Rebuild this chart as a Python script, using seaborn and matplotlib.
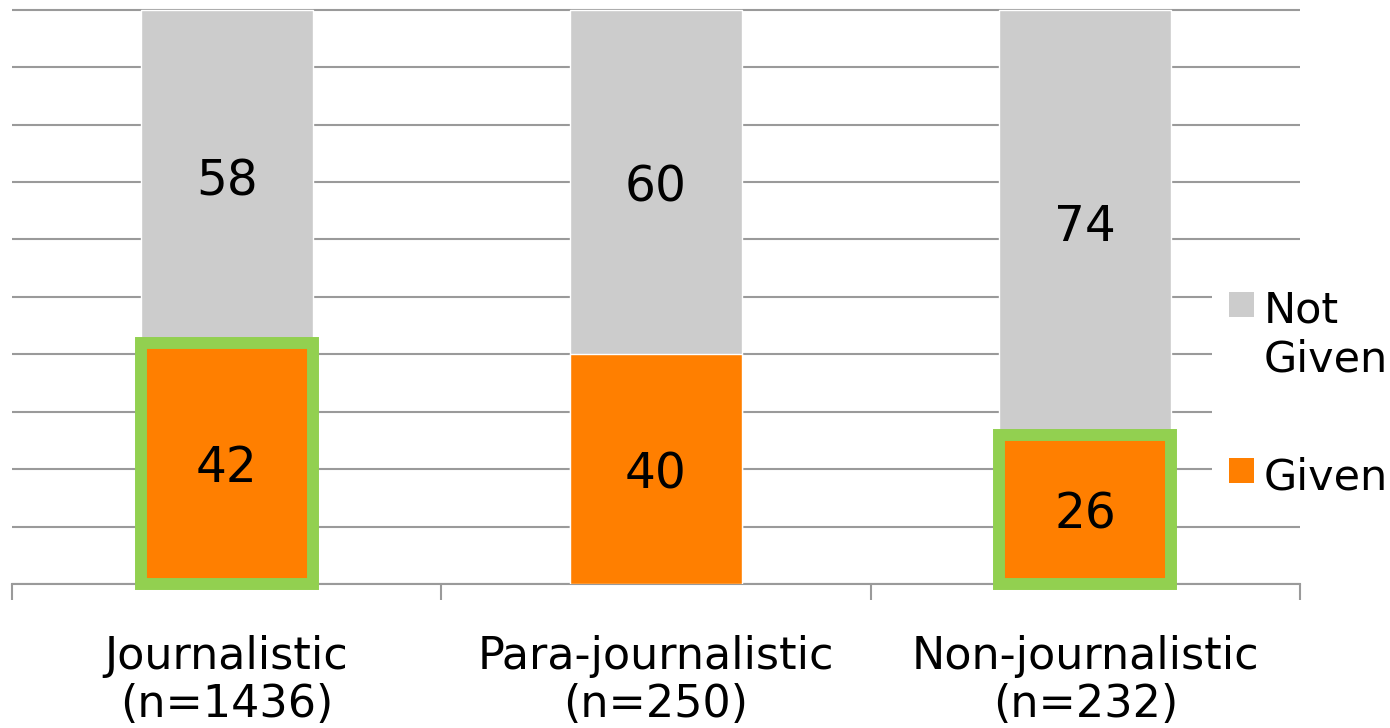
import matplotlib
matplotlib.use("Agg")
import matplotlib.pyplot as plt
import seaborn as sns
import pandas as pd
from matplotlib.patches import Patch, Rectangle
from matplotlib.legend_handler import HandlerPatch

# Share of items with attribution given, by source type (percent)
groups = ["Journalistic", "Para-journalistic", "Non-journalistic"]
sample_sizes = [1436, 250, 232]
given = [42, 40, 26]
not_given = [58, 60, 74]
highlighted = [True, False, True]

tick_labels = [f"{g}\n(n={n})" for g, n in zip(groups, sample_sizes)]

df = pd.DataFrame({"group": tick_labels, "Given": given, "Not Given": not_given})
df["Total"] = df["Given"] + df["Not Given"]

GREY = "#CCCCCC"
ORANGE = "#FF7F00"
GREEN = "#92D050"
RULE = "#9A9A9A"

sns.set_theme(style="white")
plt.rcParams["font.family"] = ["DejaVu Sans"]

W, H = 1390, 728
fig = plt.figure(figsize=(W / 100, H / 100), dpi=100)
ax = fig.add_axes([12 / W, 144 / H, 1288 / W, 576 / H])

# stacked bars: full height in grey, "Given" share in orange on top of it
sns.barplot(data=df, x="group", y="Total", color=GREY, width=0.4,
            saturation=1, errorbar=None, ax=ax, zorder=2)
n_back = len(ax.patches)
sns.barplot(data=df, x="group", y="Given", color=ORANGE, width=0.4,
            saturation=1, errorbar=None, ax=ax, zorder=3)
given_bars = ax.patches[n_back:]

for bar, flag in zip(given_bars, highlighted):
    if flag:
        bar.set_edgecolor(GREEN)
        bar.set_linewidth(8.6)
        bar.set_joinstyle("miter")
        bar.set_clip_on(False)
        bar.set_zorder(4)

# value labels centred in each segment
for i, (g, ng) in enumerate(zip(given, not_given)):
    ax.text(i, g / 2, f"{g}", ha="center", va="center_baseline",
            fontsize=35, color="black", zorder=6)
    ax.text(i, g + ng / 2, f"{ng}", ha="center", va="center_baseline",
            fontsize=35, color="black", zorder=6)

ax.set_xlim(-0.5, len(groups) - 0.5)
ax.set_ylim(0, 100.3)
ax.set_xlabel("")
ax.set_ylabel("")

ax.set_yticks(range(0, 101, 10))
ax.set_yticklabels([])
ax.tick_params(axis="y", length=0)
ax.set_axisbelow(True)
ax.yaxis.grid(True, color=RULE, linewidth=1.5)
ax.xaxis.grid(False)

ax.set_xticks(range(len(groups)))
ax.set_xticklabels(tick_labels, fontsize=32, linespacing=1.14, color="black")
ax.set_xticks([i - 0.5 for i in range(len(groups) + 1)], minor=True)
ax.tick_params(axis="x", which="major", length=0, pad=37)
ax.tick_params(axis="x", which="minor", length=11.5, width=1.5,
               color=RULE, direction="out", bottom=True)

for side in ("left", "right", "top"):
    ax.spines[side].set_visible(False)
ax.spines["bottom"].set_color(RULE)
ax.spines["bottom"].set_linewidth(1.5)

# legend with small squares aligned to the first line of each label
SQ = 18.0
LEG_FS = 31
LINE_SPACING = 1.22


def square_handler(lines):
    def make(legend, orig_handle, xdescent, ydescent, width, height, fontsize):
        step = 0.53 * fontsize * LINE_SPACING
        lift = 0.14 * fontsize + (lines - 1) * step
        return Rectangle((-xdescent, lift), SQ, SQ)
    return HandlerPatch(patch_func=make)


h_not = Patch(facecolor=GREY, edgecolor="none")
h_given = Patch(facecolor=ORANGE, edgecolor="none")
leg_labels = ["Not\nGiven", "Given"]
leg = ax.legend([h_not, h_given], leg_labels,
                handler_map={h_not: square_handler(2), h_given: square_handler(1)},
                loc="upper left", bbox_to_anchor=(1212 / W, 1 - 272 / H),
                bbox_transform=fig.transFigure, borderaxespad=0,
                fontsize=LEG_FS, frameon=True, framealpha=1, facecolor="white",
                edgecolor="none", fancybox=False, handlelength=SQ / LEG_FS,
                handleheight=SQ / LEG_FS, handletextpad=0.23, labelspacing=1.76,
                borderpad=0.4)
for t in leg.get_texts():
    t.set_linespacing(LINE_SPACING)
    t.set_color("black")

fig.savefig("out.png", dpi=100)
